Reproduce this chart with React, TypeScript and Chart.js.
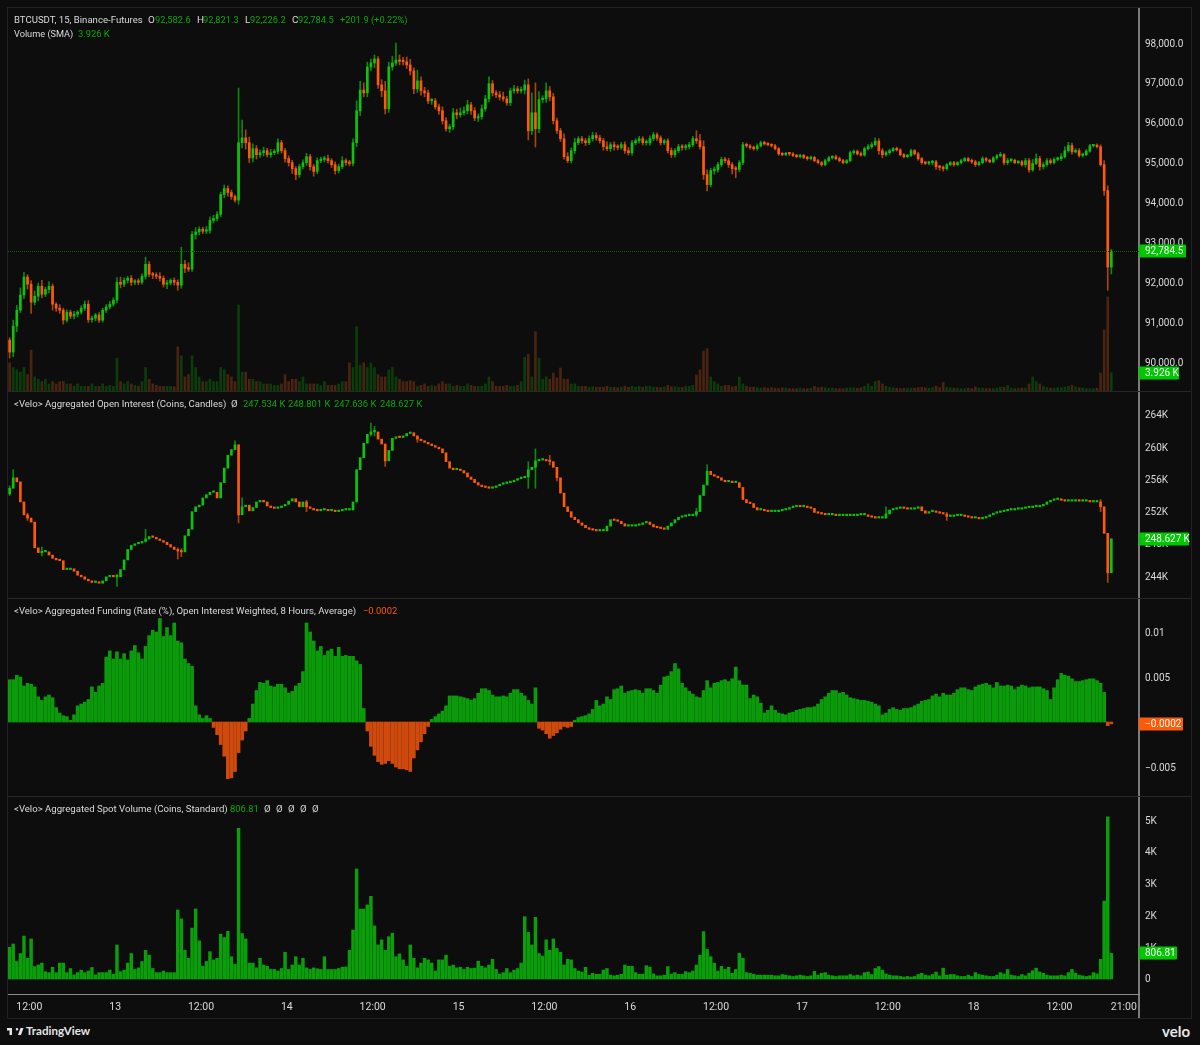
import React, { useEffect, useRef } from 'react';
import { Chart, registerables } from 'chart.js';
Chart.register(...registerables);

// 30 minute buckets, first bar around 09:15 on the 12th
const firstBarHour = 9.25;
const firstOpen = 90550;

const priceClose = [
  90250,90900,91300,91680,92130,91950,91500,91650,91900,91700,91820,91900,91450,91350,91300,91050,91250,91150,91200,91250,
  91350,91450,91060,91100,91180,91050,91300,91380,91450,91550,92000,91950,92050,92100,92000,92010,92000,92150,92450,92200,
  92180,92150,92100,91950,91980,92050,92000,91930,92450,92350,92330,93200,93260,93330,93280,93300,93550,93600,93700,94200,
  94350,94250,94150,94060,95500,95620,95500,95120,95350,95200,95250,95300,95200,95250,95280,95500,95300,95100,95000,94850,
  94700,94900,95000,95150,94900,94780,95050,95080,95100,95050,94950,94800,94900,95050,95000,94980,95500,96300,96820,96750,
  97400,97500,97600,96950,96800,96350,97400,97500,97570,97540,97530,97450,97300,96850,97050,96800,96750,96550,96550,96400,
  96300,96050,95850,95900,96250,96200,96250,96300,96450,96300,96120,96150,96350,96600,96980,96750,96700,96650,96600,96500,
  96800,96850,96800,96820,96950,95800,96250,95850,96580,96600,96800,96650,96050,95800,95600,95150,95050,95300,95500,95600,
  95550,95500,95600,95680,95620,95550,95400,95350,95450,95400,95380,95450,95300,95250,95500,95550,95600,95500,95500,95600,
  95700,95620,95500,95550,95300,95200,95300,95400,95380,95400,95450,95600,95550,95400,94700,94450,94800,94820,94950,95080,
  95050,94950,94850,94830,95000,95450,95420,95380,95350,95420,95500,95470,95450,95420,95350,95220,95200,95230,95220,95180,
  95150,95180,95130,95100,95130,95050,95000,94950,95050,95120,95150,95100,95050,95000,95050,95250,95280,95220,95190,95350,
  95400,95450,95540,95300,95200,95250,95300,95350,95320,95200,95150,95180,95300,95220,95100,95000,94980,95000,95020,94900,
  94880,94850,94950,95000,94950,95000,95050,95100,95050,95020,94950,95000,95100,95060,95020,95120,95170,95200,95000,95050,
  95060,95000,95020,94950,95050,94820,94980,95100,94900,94950,95050,95000,95080,95100,95150,95300,95430,95270,95300,95180,
  95200,95290,95420,95430,95400,94950,94300,92380,92784.5,
];

// wick length above the body, dollars
const priceWickUp = [
  60,150,120,180,120,60,90,130,80,150,60,120,60,40,90,50,60,50,70,40,
  60,80,90,50,40,60,50,60,70,60,120,130,60,50,70,60,80,60,180,70,
  50,60,90,60,70,40,60,60,430,100,140,80,110,60,50,100,90,80,70,60,
  90,70,60,40,1370,450,200,140,120,80,70,90,60,80,50,100,60,60,70,60,
  50,60,70,80,60,50,70,60,60,90,50,70,60,100,50,60,100,250,220,180,
  120,100,100,60,130,240,120,170,430,130,100,120,140,80,270,100,90,70,60,60,
  70,100,80,60,110,90,120,100,110,60,80,70,100,90,170,80,60,90,120,60,
  70,90,60,80,120,150,500,750,200,80,200,110,90,70,60,120,100,70,110,50,
  60,60,70,80,70,70,60,120,60,70,50,60,70,80,60,50,60,50,70,70,
  60,50,50,40,50,70,50,60,50,60,60,60,200,160,150,120,60,70,60,60,
  50,60,50,60,50,60,40,30,40,50,40,40,30,30,40,30,30,30,30,30,
  30,30,30,30,40,30,30,30,40,40,30,40,40,30,30,40,40,40,50,40,
  50,60,80,60,50,40,40,30,40,30,30,30,40,30,40,30,30,30,40,40,
  30,40,30,30,30,30,40,30,30,40,40,30,50,30,30,30,40,60,30,60,
  40,30,30,40,60,60,100,120,60,60,50,50,40,40,80,100,80,60,50,50,
  40,40,40,30,40,50,100,120,37,
];

// wick length below the body, dollars
const priceWickDown = [
  150,120,140,60,90,120,280,70,120,90,60,90,150,80,80,100,50,60,70,70,
  50,60,70,60,70,60,50,60,50,50,60,90,60,70,80,60,60,50,70,60,
  90,60,70,70,110,50,70,130,80,110,60,60,120,70,60,60,70,60,60,60,
  80,90,70,50,100,130,160,120,100,110,70,80,60,70,50,60,60,90,90,120,
  130,70,60,70,90,120,60,50,60,60,70,90,60,50,70,60,60,100,120,100,
  100,90,120,90,150,130,90,80,60,90,80,90,100,120,90,110,100,70,90,60,
  90,80,60,90,70,100,60,60,80,90,70,90,60,60,80,80,70,80,60,60,
  70,60,60,60,100,230,90,460,100,70,90,100,80,70,70,60,50,60,70,50,
  60,70,50,60,60,60,90,50,70,90,60,50,70,60,60,50,60,60,60,60,
  50,60,60,50,60,70,60,50,70,60,60,50,70,60,120,160,60,90,60,50,
  60,70,130,210,60,50,40,40,40,40,30,30,30,30,30,40,30,30,40,30,
  30,30,30,40,30,30,30,40,30,30,30,30,30,30,30,30,40,30,30,30,
  40,40,30,90,80,40,40,30,30,30,30,30,30,30,40,40,30,40,60,70,
  70,60,40,30,40,30,30,30,30,40,50,30,30,40,30,30,30,30,60,50,
  30,30,30,40,60,60,40,30,90,60,40,40,30,30,50,40,40,60,30,40,
  40,30,30,30,30,40,120,580,170,
];

// thousands of coins
const volume = [
  6,5,4.5,4,5,3.5,8.7,3,2.5,2,2.5,1.5,2,1.5,2,2,1.5,1.5,1,1.5,
  1,1,1,1.5,1,1,1.5,1,1.2,1,7,2,1.5,2,1.5,1.2,1,2,5,2.5,
  1.5,1.2,1,1,1,1,0.9,9.4,7.5,3,3.5,7.5,5,3,2,2,2.5,2,2,5,
  4.5,3.5,3,2,18.3,4,4,2.5,2.5,2,2,1.5,1.5,1.5,1.2,1.2,1.5,3.5,2,2.5,
  2.5,2,3,1.5,1.5,1.5,1.5,1.2,2,1.2,1.2,1.2,1.5,2,2,6,5,13.7,5.5,6,
  5,6,5,3.5,3,3,4.5,5,3,2.5,2,2,2.2,2,1,1.2,1.5,1,1.2,1,
  1.5,2,1.5,1.5,1,1.2,1,1,1.5,1.2,1,1,1,1.5,3,2,1,1,1,1.2,
  1,1,1.2,2,7.2,7.8,3,12.6,7,2.5,3,2.5,3.8,2.8,4.9,2.5,2.5,1.5,1.5,1,
  1,1,0.8,0.9,0.8,0.8,0.8,1,0.8,0.8,0.7,0.8,1,0.8,1,0.8,1,0.8,1,1,
  0.8,0.8,0.7,0.8,1.2,0.9,0.9,0.8,0.8,1,1,1.2,3.4,4.5,8.5,9,3,2,1.5,1,
  1.2,1.2,0.9,1,3,1.5,1,0.8,0.8,0.7,0.6,0.7,0.6,0.7,0.6,0.5,0.7,0.6,0.5,0.5,
  0.5,0.6,0.5,0.5,0.6,1,0.7,0.8,0.7,0.6,0.6,0.5,0.5,0.5,0.6,0.7,0.7,0.6,0.7,1,
  1.5,1,2,2.2,1.5,1,0.8,0.7,0.6,0.5,0.6,0.6,0.6,0.6,0.7,0.8,0.7,0.6,0.7,1,
  0.7,1.8,0.8,0.7,0.6,0.6,0.5,0.5,0.6,0.5,0.9,0.6,0.6,0.5,0.5,0.5,0.6,0.8,0.8,1.2,
  0.6,0.5,0.5,0.6,0.6,1.5,3,2,1.5,1,0.7,0.6,0.6,0.7,0.7,0.8,1,1.2,0.9,0.7,
  0.6,0.5,0.5,0.5,0.6,3.8,13,20,3.926,
];

const oiFirstOpen = 254.2;
const oiClose = [
  254.9,256.2,255.7,253.2,251.6,251.2,250.7,247.5,246.9,247,247,246.6,246.2,246,245.9,244.8,244.8,244.9,244.6,244.1,
  243.9,243.6,243.4,243.2,243.2,243.1,243.4,243.9,244,243.9,243.9,244.8,246,247.3,247.8,248,248.1,248.3,248.6,248.9,
  248.8,248.6,248.4,248.2,247.9,247.6,247.3,247.1,247,249,249.8,252,252.6,252.8,253.7,254.1,254.4,254.4,253.7,255.6,
  257.4,259,259.7,260.3,251.6,252.6,252.8,252.1,252.5,253.2,253.4,253.2,252.7,252.5,252.4,252.5,252.7,252.9,253.3,253.6,
  253.2,252.6,253.2,252.6,252.4,252.2,252.1,252.2,252.2,252.1,252.1,252,252.1,252.2,252.2,252.2,253.2,257.2,258.7,260.5,
  261.6,261.9,261.9,261,260.4,258.3,259.6,261.1,261.3,261.2,261.4,261.7,261.8,261.4,261,260.8,260.6,260.4,260.2,260,
  259.8,259.3,258.2,257.4,257.2,257.2,257.1,256.8,256.3,256,255.6,255.3,255.1,255,254.9,255,255.2,255.4,255.5,255.6,
  255.7,255.9,256.1,256.2,256.3,257.2,257.5,258.3,258.4,258.4,258.3,258.2,257.5,256.2,254.3,252.6,252,251.3,251,250.6,
  250.3,250,249.8,249.7,249.6,249.6,249.6,250.2,251,250.9,250.8,250.5,250.2,250.2,250.2,250.3,250.4,250.6,250.7,250.4,
  250.1,250,249.9,249.8,250.2,250.6,251,251.3,251.4,251.5,251.5,251.6,252,254,255.3,257,256.6,256.4,256.2,255.9,
  255.7,255.7,255.6,255.6,255,253.5,253.1,253,252.5,252.2,252.2,252.1,252,252,252,252.1,252.2,252.3,252.5,252.6,
  252.7,252.6,252.6,252.5,252.4,251.9,251.8,251.7,251.6,251.6,251.6,251.5,251.5,251.5,251.5,251.5,251.5,251.6,251.6,251.6,
  251.4,251.3,251.2,251.2,251.2,251.7,252.2,252.3,252.4,252.5,252.4,252.3,252.3,252.4,252.6,252.1,251.8,252,252,251.9,
  251.8,251.7,251.4,251.4,251.5,251.5,251.5,251.4,251.3,251.2,251.2,251.1,251.2,251.4,251.6,251.8,251.9,252,252.1,252.2,
  252.2,252.3,252.3,252.4,252.5,252.5,252.6,252.6,252.7,252.9,253.2,253.4,253.5,253.5,253.4,253.3,253.3,253.3,253.4,253.3,
  253.3,253.3,253.2,253.2,253.2,252.6,249.3,244.4,248.627,
];

// only the wicks that stand out in the open interest pane
const oiWickBar = [0,1,5,9,30,38,47,48,63,64,65,83,101,102,105,114,145,147,151,153,192,195,245,262,305,307];
const oiWickTop = [255.2,257.2,251.8,247.6,244.2,249.8,247.5,247.4,260.8,252,253.7,253.4,263,262.6,258.6,261.4,258.2,259.8,259,256.8,252.4,257.8,252.6,251.9,253.5,249.3];
const oiWickBottom = [254,255.6,250.9,246.5,242.7,248.2,246.1,246.4,260.1,250.6,252.2,252,261.4,261.4,257.6,260.6,254.9,254.9,257.8,255.8,251.4,256.4,251.2,250.9,252,243.2];

// funding in thousandths, 4.7 is 0.0047
const fundingMilli = [
  4.7,4.7,5.2,5,4,4.3,4.2,3.9,2.8,2.4,2.8,3,2.7,1.6,1,0.7,0.6,0.2,0.8,1.8,
  2,2.2,2.5,3.9,3.3,4,4.3,7.2,7.9,7,7.8,7,7.6,6.9,7.9,8.5,7.7,7,8.4,9.6,
  10.2,10,11.5,9.5,10.5,9.6,11,9,8.8,7,6.5,6.2,1.8,0.8,0.4,0.7,0.4,-0.6,-1.4,-2.5,
  -3.8,-6.3,-6.2,-5.5,-3.4,-2,-1,0.4,2,3.5,4.4,4.3,4.6,4,3.9,4.2,4.2,3.8,3.2,3.4,
  4,4.3,5.6,11,10,9,7.9,8.4,7.4,7.9,8.1,7.3,8.3,7.3,7.4,7.3,7.3,6.8,6.4,1.5,
  -1,-2.7,-3.7,-4.4,-4.7,-4.6,-4.3,-4.6,-5,-5.2,-5.2,-5.3,-5.5,-4,-3.1,-2.2,-1.3,-0.5,0.3,0.6,
  0.9,1.2,1.8,2.9,2.9,2.9,2.8,2.7,2.6,2.4,2.6,3.2,3.7,3.7,3.5,3,2.8,2.8,2.9,2.8,
  3.2,3.6,3.6,3.2,2.9,2.4,2,3.8,-0.7,-0.9,-1.3,-1.8,-1.5,-1.2,-0.8,-0.5,-0.6,-0.5,0.2,0.5,
  0.6,0.7,0.9,1.4,2.4,1.8,2,2.8,2.5,3.6,3.7,4,3.2,3.4,3.5,3.6,3.5,3.2,3.7,3.7,
  3.5,3.2,4.1,5,5.1,5.6,6.5,5.9,4.3,3.8,3.4,3.1,2.8,2.7,3.5,4.6,3.8,4.3,4.4,4.6,
  4.7,4.5,4.8,6.1,4.6,4.1,4.1,2.6,3,2.8,2.1,1,1.3,1.8,1.3,1,0.9,0.8,1,1.1,
  1.3,1.4,1.5,1.6,1.6,1.7,2,2.5,2.8,3.2,3.5,3.5,3.2,3.3,3,2.7,2.6,2.5,2.4,2.4,
  2.3,2.2,2,1.8,0.8,1,1.4,1.6,1.4,1.3,1.5,1.5,1.6,1.8,2,2.3,2.4,2.5,2.9,3.1,
  2.8,3.2,3,3,3.2,3.6,3.8,3.8,3.6,3.5,3.9,4.1,4.2,4.3,4.1,3.8,4.4,4,4,4.1,
  4,3.6,3.9,4.1,4,3.8,3.9,3.9,3.9,3.7,3.5,2.5,3.8,4.7,5.4,5.2,5.1,4.8,4.5,4.5,
  4.6,4.7,4.8,4.8,4.6,4.3,3.3,-0.4,-0.2,
];

// thousands of coins
const spotVolume = [
  1,1.1,0.55,0.8,1.35,0.65,1.26,0.39,0.44,0.5,0.23,0.2,0.37,0.2,0.5,0.5,0.2,0.33,0.13,0.2,
  0.28,0.2,0.25,0.36,0.13,0.2,0.2,0.2,0.28,0.15,1.07,0.23,0.28,0.5,0.8,0.3,0.35,0.55,0.9,0.75,
  0.33,0.2,0.2,0.25,0.2,0.2,0.2,2.17,1.89,0.9,0.65,1.6,2.2,1.2,0.4,0.55,0.86,0.6,0.65,1.41,
  1.3,1.5,0.7,0.46,4.74,1.43,1.26,0.5,0.5,0.35,0.65,0.44,0.4,0.3,0.3,0.25,0.33,0.84,0.3,0.44,
  0.7,0.44,0.65,0.35,0.3,0.35,0.32,0.3,0.7,0.3,0.3,0.3,0.33,0.37,0.38,0.9,1.54,3.46,2.2,2.2,
  2.33,2.6,1.67,1.07,1.23,0.9,1.33,1.44,0.7,0.79,0.6,0.4,1.07,0.65,0.35,0.5,0.65,0.6,0.5,0.25,
  0.6,0.6,0.75,0.4,0.44,0.35,0.37,0.3,0.37,0.33,0.34,0.56,0.4,0.35,0.44,0.62,0.3,0.15,0.2,0.33,
  0.2,0.28,0.33,0.5,1.96,1.47,1.07,1.94,0.8,0.72,1.23,0.9,1.26,0.96,0.84,0.44,0.62,0.6,0.33,0.25,
  0.22,0.37,0.12,0.18,0.15,0.15,0.28,0.33,0.12,0.1,0.12,0.15,0.44,0.4,0.4,0.2,0.15,0.15,0.42,0.37,
  0.16,0.1,0.1,0.12,0.39,0.15,0.2,0.15,0.15,0.23,0.2,0.25,0.44,0.75,1.49,0.93,0.7,0.5,0.25,0.4,
  0.3,0.37,0.18,0.3,0.81,0.65,0.2,0.18,0.15,0.12,0.12,0.12,0.12,0.12,0.1,0.1,0.14,0.12,0.1,0.08,
  0.1,0.12,0.1,0.08,0.1,0.24,0.12,0.18,0.2,0.12,0.1,0.08,0.1,0.1,0.1,0.14,0.1,0.12,0.1,0.2,
  0.22,0.14,0.33,0.39,0.28,0.16,0.12,0.1,0.1,0.08,0.06,0.08,0.06,0.08,0.14,0.18,0.12,0.1,0.14,0.22,
  0.1,0.34,0.12,0.14,0.14,0.1,0.08,0.08,0.12,0.08,0.2,0.14,0.12,0.1,0.08,0.08,0.12,0.2,0.16,0.3,
  0.12,0.1,0.08,0.14,0.1,0.18,0.26,0.34,0.22,0.18,0.12,0.1,0.1,0.1,0.12,0.1,0.2,0.3,0.18,0.12,
  0.1,0.08,0.1,0.2,0.16,0.62,2.45,5.1,0.806,
];

const priceTicks = [90000, 91000, 92000, 93000, 94000, 95000, 96000, 97000, 98000];
const oiTicks = [244, 248, 252, 256, 260, 264];
const fundingTicks = [-5, 5, 10];
const fundingTickLabels = ['\u22120.005', '0.005', '0.01'];
const spotTicks = [0, 1, 2, 3, 4, 5];

// hours since 00:00 on the 12th
const timeTicks = [12, 24, 36, 48, 60, 72, 84, 96, 108, 120, 132, 144, 156, 165];
const timeTickLabels = ['12:00', '13', '12:00', '14', '12:00', '15', '12:00', '16', '12:00', '17', '12:00', '18', '12:00', '21:00'];

const GREEN = '#0dc40d';
const ORANGE = '#ff5a08';
const VALUE_GREEN = '#0aa80a';
const FONT = 'Roboto, sans-serif';
const BG = '#0d0d0d';
const TEXT = '#dadada';

const hours = priceClose.map((_, i) => firstBarHour + i * 0.5);
const priceOpen = priceClose.map((_, i) => (i === 0 ? firstOpen : priceClose[i - 1]));
const oiOpen = oiClose.map((_, i) => (i === 0 ? oiFirstOpen : oiClose[i - 1]));

function xScale(show: boolean) {
  return {
    type: 'linear',
    display: show,
    min: 9.02,
    max: 167.12,
    offset: false,
    grid: { display: false, drawTicks: false, offset: false },
    border: { display: show, color: '#8c8c8c', width: 1 },
    afterFit: (s: any) => {
      s.height = show ? 24 : 0;
      s.paddingLeft = 0;
      s.paddingRight = 0;
    },
    afterBuildTicks: (s: any) => { s.ticks = timeTicks.map(value => ({ value })); },
    ticks: {
      color: TEXT,
      font: { family: FONT, size: 10.5 },
      padding: 7,
      maxRotation: 0,
      autoSkip: false,
      callback: (v: number) => timeTickLabels[timeTicks.indexOf(v)],
    },
  };
}

function yScale(min: number, max: number, values: number[], label: (v: number) => string) {
  return {
    position: 'right',
    min,
    max,
    grid: { display: false, drawTicks: false },
    border: { display: false },
    afterFit: (s: any) => {
      s.width = 52;
      s.paddingTop = 0;
      s.paddingBottom = 0;
    },
    afterBuildTicks: (s: any) => { s.ticks = values.map(value => ({ value })); },
    ticks: {
      color: TEXT,
      font: { family: FONT, size: 10 },
      padding: 6,
      labelOffset: 1,
      autoSkip: false,
      callback: label,
    },
  };
}

// last value tags on the price axis, and the dotted last price line
function tagPlugin(tags: { value: number; text: string; color: string; width: number }[], lastLine?: number) {
  return {
    id: 'tags',
    afterDraw(chart: any) {
      const { ctx, chartArea, scales } = chart;
      ctx.save();
      if (lastLine !== undefined) {
        const ly = Math.round(scales.y.getPixelForValue(lastLine)) + 0.5;
        ctx.strokeStyle = '#0e5e0e';
        ctx.setLineDash([1, 1]);
        ctx.beginPath();
        ctx.moveTo(chartArea.left, ly);
        ctx.lineTo(chartArea.right, ly);
        ctx.stroke();
        ctx.setLineDash([]);
      }
      ctx.font = `10px ${FONT}`;
      ctx.textBaseline = 'middle';
      tags.forEach(t => {
        const axis = t.color === 'vol' ? scales.yv : scales.y;
        const y = Math.round(axis.getPixelForValue(t.value));
        ctx.fillStyle = t.color === ORANGE ? ORANGE : '#00c800';
        ctx.beginPath();
        ctx.roundRect(chartArea.right, y - 6.5, t.width, 13, 1);
        ctx.fill();
        ctx.fillStyle = '#ffffff';
        ctx.textAlign = 'left';
        ctx.fillText(t.text, chartArea.right + 6, y + 0.5);
      });
      ctx.restore();
    },
  };
}

const baseOptions = {
  responsive: false,
  animation: false,
  events: [],
  layout: { autoPadding: false, padding: 0 },
  plugins: { legend: { display: false }, tooltip: { enabled: false } },
};

function candleSets(open: number[], close: number[], wickTop: (number | null)[], wickBottom: (number | null)[], body: number) {
  const colors = close.map((c, i) => (c >= open[i] ? GREEN : ORANGE));
  const wickColors = close.map((c, i) => (c >= open[i] ? '#0a8a0a' : '#a8440c'));
  return [
    {
      data: hours.map((x, i) => ({ x, y: [open[i], close[i]] })),
      backgroundColor: colors,
      barThickness: body,
      minBarLength: 1.5,
      grouped: false,
    },
    {
      data: hours.map((x, i) => ({ x, y: wickTop[i] === null ? null : [wickBottom[i], wickTop[i]] })),
      backgroundColor: wickColors,
      barThickness: 1,
      grouped: false,
    },
  ];
}

function priceConfig() {
  const top = priceClose.map((c, i) => Math.max(c, priceOpen[i]) + priceWickUp[i]);
  const bottom = priceClose.map((c, i) => Math.min(c, priceOpen[i]) - priceWickDown[i]);
  return {
    type: 'bar',
    data: {
      datasets: [
        ...candleSets(priceOpen, priceClose, top, bottom, 2),
        {
          yAxisID: 'yv',
          data: hours.map((x, i) => ({ x, y: volume[i] })),
          backgroundColor: priceClose.map((c, i) => (c >= priceOpen[i] ? '#0a3d0a' : '#4a2410')),
          barThickness: 2,
          grouped: false,
        },
      ],
    },
    options: {
      ...baseOptions,
      scales: {
        x: xScale(false),
        y: yScale(89273, 98853, priceTicks, v => Number(v).toLocaleString('en-US', { minimumFractionDigits: 1 })),
        yv: { display: false, min: 0, max: 81.3 },
      },
    },
    plugins: [tagPlugin([
      { value: 92784.5, text: '92,784.5', color: GREEN, width: 47 },
      { value: 3.926, text: '3.926 K', color: 'vol', width: 40 },
    ], 92784.5)],
  };
}

function oiConfig() {
  const top = oiClose.map((_, i) => (oiWickBar.includes(i) ? oiWickTop[oiWickBar.indexOf(i)] : null));
  const bottom = oiClose.map((_, i) => (oiWickBar.includes(i) ? oiWickBottom[oiWickBar.indexOf(i)] : null));
  return {
    type: 'bar',
    data: { datasets: candleSets(oiOpen, oiClose, top, bottom, 2) },
    options: {
      ...baseOptions,
      scales: { x: xScale(false), y: yScale(241.27, 266.98, oiTicks, v => `${v}K`) },
    },
    plugins: [tagPlugin([{ value: 248.627, text: '248.627\u2009K', color: GREEN, width: 50 }])],
  };
}

function fundingConfig() {
  return {
    type: 'bar',
    data: {
      datasets: [{
        data: hours.map((x, i) => ({ x, y: fundingMilli[i] })),
        backgroundColor: fundingMilli.map(v => (v >= 0 ? '#0a9a0a' : '#cf4a0c')),
        barThickness: 3,
        grouped: false,
      }],
    },
    options: {
      ...baseOptions,
      scales: {
        x: xScale(false),
        y: yScale(-8.22, 13.78, fundingTicks, v => fundingTickLabels[fundingTicks.indexOf(v)]),
      },
    },
    plugins: [tagPlugin([{ value: -0.2, text: '\u22120.0002', color: ORANGE, width: 44 }])],
  };
}

function spotConfig() {
  return {
    type: 'bar',
    data: {
      datasets: [{
        data: hours.map((x, i) => ({ x, y: spotVolume[i] })),
        backgroundColor: '#0a9f0a',
        barThickness: 2.8,
        grouped: false,
      }],
    },
    options: {
      ...baseOptions,
      scales: {
        x: xScale(true),
        y: yScale(-0.472, 5.755, spotTicks, v => (v === 0 ? '0' : `${v}K`)),
      },
    },
    plugins: [tagPlugin([{ value: 0.80681, text: '806.81', color: GREEN, width: 38 }])],
  };
}

const Pane = ({ top, height, config }: { top: number; height: number; config: () => any }) => {
  const canvasRef = useRef<HTMLCanvasElement | null>(null);
  useEffect(() => {
    const chart = new Chart(canvasRef.current as HTMLCanvasElement, config());
    return () => chart.destroy();
  }, [config]);
  return (
    <canvas
      ref={canvasRef}
      width={1183}
      height={height}
      style={{ position: 'absolute', left: 8, top, width: 1183, height, display: 'block' }}
    />
  );
};

const Label = ({ x, y, size = 9.6, color = TEXT, children }: { x: number; y: number; size?: number; color?: string; children: React.ReactNode }) => (
  <span style={{ position: 'absolute', left: x, top: y - 7, height: 14, lineHeight: '14px', fontSize: size, color, whiteSpace: 'pre' }}>
    {children}
  </span>
);

const Rule = ({ y }: { y: number }) => (
  <div style={{ position: 'absolute', left: 8, width: 1183, top: y, height: 1, background: '#26262b' }} />
);

const App = () => (
  <div style={{ position: 'absolute', left: 0, top: 0, width: 1200, height: 1045, overflow: 'hidden', background: BG, fontFamily: FONT }}>
    <div style={{ position: 'absolute', left: 7, top: 7, width: 1183, height: 1010, border: '1px solid #222226' }} />
    <div style={{ position: 'absolute', left: 1138, top: 8, width: 2, height: 1010, background: '#7c7c7c' }} />
    <Rule y={391} />
    <Rule y={598} />
    <Rule y={796} />
    <Pane top={9} height={382} config={priceConfig} />
    <Pane top={391} height={207} config={oiConfig} />
    <Pane top={598} height={198} config={fundingConfig} />
    <Pane top={796} height={222} config={spotConfig} />

    <Label x={14} y={20}>BTCUSDT, 15, Binance-Futures</Label>
    <Label x={148} y={20} size={9.9}>O</Label>
    <Label x={155} y={20} size={9.3} color={VALUE_GREEN}>92,582.6</Label>
    <Label x={197} y={20} size={9.9}>H</Label>
    <Label x={203} y={20} size={9.3} color={VALUE_GREEN}>92,821.3</Label>
    <Label x={245} y={20} size={9.9}>L</Label>
    <Label x={250} y={20} size={9.3} color={VALUE_GREEN}>92,226.2</Label>
    <Label x={292} y={20} size={9.9}>C</Label>
    <Label x={298} y={20} size={9.3} color={VALUE_GREEN}>92,784.5</Label>
    <Label x={340} y={20} size={9.3} color={VALUE_GREEN}>+201.9 (+0.22%)</Label>
    <Label x={14} y={34} size={9.2}>Volume (SMA)</Label>
    <Label x={78} y={34} size={9.4} color={VALUE_GREEN}>3.926 K</Label>

    <Label x={14} y={404}>{'<Velo> Aggregated Open Interest (Coins, Candles)'}</Label>
    <Label x={231} y={404}>Ø</Label>
    <Label x={243} y={404} size={9.4} color={VALUE_GREEN}>247.534 K</Label>
    <Label x={288} y={404} size={9.4} color={VALUE_GREEN}>248.801 K</Label>
    <Label x={334} y={404} size={9.4} color={VALUE_GREEN}>247.636 K</Label>
    <Label x={380} y={404} size={9.4} color={VALUE_GREEN}>248.627 K</Label>

    <Label x={14} y={611}>{'<Velo> Aggregated Funding (Rate (%), Open Interest Weighted, 8 Hours, Average)'}</Label>
    <Label x={363} y={611} size={9.4} color={ORANGE}>{'\u22120.0002'}</Label>

    <Label x={14} y={809}>{'<Velo> Aggregated Spot Volume (Coins, Standard)'}</Label>
    <Label x={230} y={809} size={9.4} color={VALUE_GREEN}>806.81</Label>
    <Label x={264} y={809}>Ø</Label>
    <Label x={276} y={809}>Ø</Label>
    <Label x={288} y={809}>Ø</Label>
    <Label x={300} y={809}>Ø</Label>
    <Label x={312} y={809}>Ø</Label>

    <svg viewBox="0 5 36 16" width="18" height="11" style={{ position: 'absolute', left: 7, top: 1026 }}>
      <path fill="#e6e6e6" d="M14 6H0v5h5v9h5V6zm14 14h-6l5-14h6l-5 14zm-8-9a2.5 2.5 0 1 0 0-5 2.5 2.5 0 0 0 0 5z" />
    </svg>
    <span style={{ position: 'absolute', left: 26, top: 1023, fontFamily: 'Lato, sans-serif', fontWeight: 700, fontSize: 11.6, lineHeight: '16px', color: '#e6e6e6' }}>TradingView</span>
    <span style={{ position: 'absolute', left: 1162, top: 1021, fontFamily: 'Lato, sans-serif', fontWeight: 700, fontSize: 15, lineHeight: '20px', color: '#e6e6e6' }}>velo</span>
  </div>
);

export default App;
